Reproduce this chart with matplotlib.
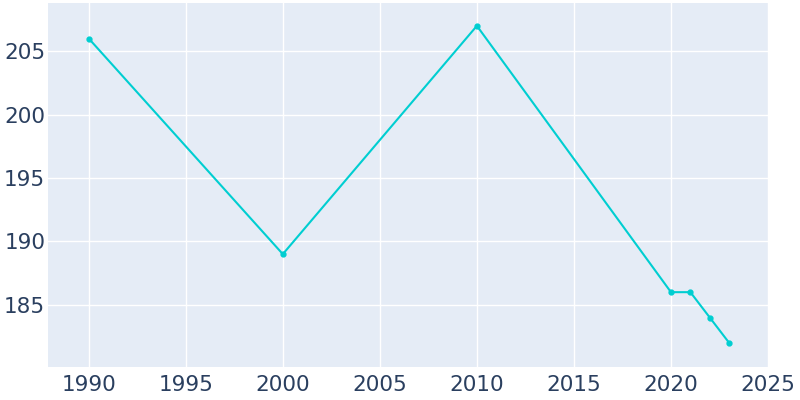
import matplotlib
matplotlib.use("Agg")
import matplotlib.pyplot as plt

# Population by year
years = [1990, 2000, 2010, 2020, 2021, 2022, 2023]
population = [206, 189, 207, 186, 186, 184, 182]

x_ticks = [1990, 1995, 2000, 2005, 2010, 2015, 2020, 2025]
y_ticks = [185, 190, 195, 200, 205]

fig = plt.figure(figsize=(8, 4), dpi=100)
ax = fig.add_axes([0.06, 0.0825, 0.90, 0.91])
ax.set_facecolor("#E5ECF6")

ax.plot(years, population, color="#00CED1", linewidth=1.5,
        marker="o", markersize=3.5, zorder=3)

ax.set_xlim(1987.9, 2025)
ax.set_ylim(180.1, 208.8)
ax.set_xticks(x_ticks)
ax.set_yticks(y_ticks)
ax.grid(True, color="white", linewidth=1)
ax.set_axisbelow(True)
for s in ax.spines.values():
    s.set_visible(False)
ax.tick_params(length=0, labelsize=15.5, labelcolor="#2a3f5f")
ax.tick_params(axis="x", pad=6)
ax.tick_params(axis="y", pad=2)

fig.savefig("out.png", dpi=100)
